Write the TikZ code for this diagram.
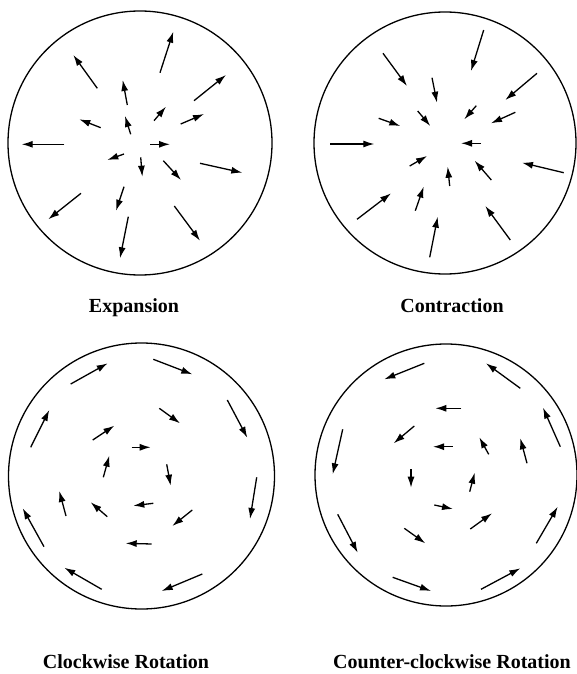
\documentclass[tikz,border=0pt]{standalone}
\usepackage{fontspec}
\setmainfont{Liberation Serif}
\usetikzlibrary{arrows.meta}

\begin{document}
\begin{tikzpicture}[
  x=1pt, y=-1pt,
  disk/.style={line width=1.3pt},
  vec/.style={->, line width=1.3pt},
  caption/.style={font=\fontsize{20}{24}\selectfont\bfseries, anchor=base},
  >={Latex[length=11pt,width=7pt]},
]
  \useasboundingbox (0,0) rectangle (577,674);

  % the four disks
  \coordinate (expc) at (140,143);
  \coordinate (conc) at (445,143);
  \coordinate (cwc)  at (141.5,476);
  \coordinate (ccwc) at (446,475);
  \draw[disk] (expc) circle (132pt);
  \draw[disk] (conc) circle (131pt);
  \draw[disk] (cwc)  circle (133pt);
  \draw[disk] (ccwc) circle (131pt);

  % expansion
  \foreach \xa/\ya/\xb/\yb in {160/72.7/173.3/31.7, 97.3/88.3/73.3/55,
      194/100.7/226/75, 127.3/105/122.7/80, 154/120.7/166/106.7,
      180.7/124/204/114, 100.7/127.7/79.3/119.3, 130.7/134.3/125/116,
      64.3/144.3/21.7/144.3, 150/144.3/170/144.3, 124/154/107.3/160,
      140.7/157.3/142.3/176.7, 163.3/160.7/181/180, 200/163.3/242.3/172.7,
      124/186.7/116/210.7, 81/193.3/48.3/219.3, 174.3/206/200/240.7,
      128.3/216.7/120/258.3}
    \draw[vec] (\xa,\ya) -- (\xb,\yb);

  % contraction
  \foreach \xa/\ya/\xb/\yb in {483.7/30/471/71, 383/53.3/407/86,
      537/73.3/505.3/100, 432/77.7/437/102.7, 476.3/105.7/464.3/119.3,
      515.3/112.3/491/123.3, 378.7/118.3/400.3/126, 417.7/111/430.3/126,
      330.3/144/374.3/144, 481/143.3/461/143.3, 409.7/166/427/156,
      449.7/186/447.7/166.7, 491.3/180/474.7/160.7, 563.7/172.7/522/162.7,
      415.3/210.7/423.7/186.7, 357/219.3/391/193.3, 510.3/240/485.3/206,
      429.7/257.3/437.7/216.7}
    \draw[vec] (\xa,\ya) -- (\xb,\yb);

  % clockwise rotation
  \foreach \xa/\ya/\xb/\yb in {70.7/384/107.7/363.3, 153.3/359.3/192.3/374.3,
      30.7/447.3/49.3/410, 227.3/400/247.3/437.7, 159.3/408.3/180/423.3,
      92.7/440/114.3/425.7, 131.7/447.3/150.7/447.3, 103.3/477.3/109.3/455.7,
      166.7/464.3/170.7/485.7, 256.7/477.3/250/519, 66/516/59.3/491,
      107.3/516.7/90.7/502.3, 153.3/503.3/133.3/505.7, 192.3/510/172.3/526,
      44/546.7/22.7/508.3, 151.7/544/125.7/543.3, 101.7/589.3/64.3/567.7,
      202.3/574/161.7/591}
    \draw[vec] (\xa,\ya) -- (\xb,\yb);

  % counter-clockwise rotation
  \foreach \xa/\ya/\xb/\yb in {424.3/363.3/384.3/379.3, 520.3/388.3/486/363.3,
      461.3/408.3/435.3/408.3, 342.7/429.3/332.7/474.3, 414.3/426/393.7/443.3,
      560.3/446.7/543/407.7, 452.7/446.7/433/446.7, 488.7/454.3/479.3/437.3,
      527/463.3/520.3/438.3, 411/469.3/411/487.7, 469.7/491.7/474.7/472.7,
      434.3/505/453/509, 470.3/529/492/513.3, 337.7/514.3/357.7/552.7,
      404.3/528.3/425.3/543.3, 536.3/543.3/557.7/506.7, 392.7/577.3/431/591,
      481/589.3/520.3/568.3}
    \draw[vec] (\xa,\ya) -- (\xb,\yb);

  \node[caption] (explbl) at (134,312) {Expansion};
  \node[caption] (conlbl) at (452,312) {Contraction};
  \node[caption] (cwlbl)  at (126,668) {Clockwise Rotation};
  \node[caption] (ccwlbl) at (452,668) {Counter-clockwise Rotation};
\end{tikzpicture}
\end{document}
